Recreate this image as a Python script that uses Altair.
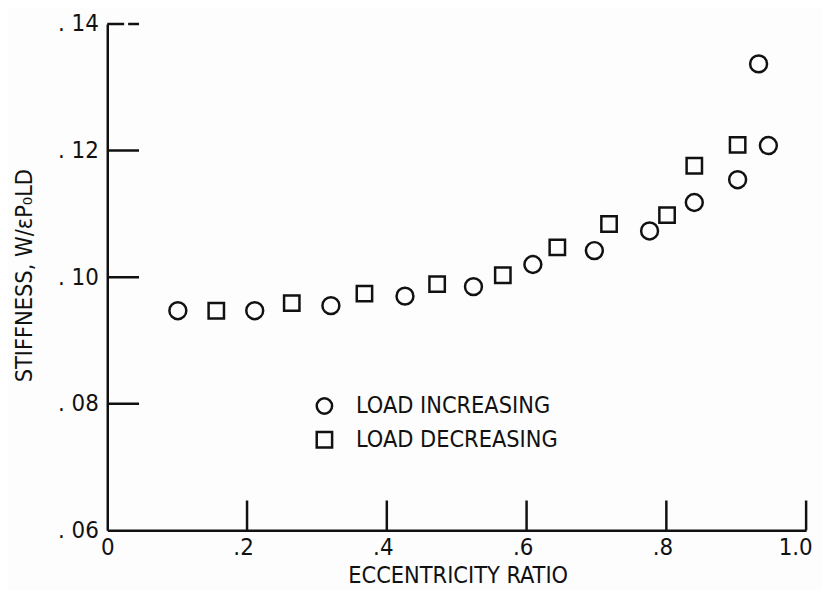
import altair as alt
import pandas as pd

# Data
inc_x = [0.101, 0.211, 0.320, 0.426, 0.524, 0.609, 0.697, 0.776, 0.840, 0.902, 0.932, 0.946]
inc_y = [0.0947, 0.0947, 0.0955, 0.0970, 0.0985, 0.1020, 0.1042, 0.1073, 0.1118, 0.1154, 0.1337, 0.1208]
dec_x = [0.156, 0.264, 0.368, 0.472, 0.566, 0.644, 0.718, 0.801, 0.840, 0.902]
dec_y = [0.0947, 0.0959, 0.0974, 0.0989, 0.1003, 0.1047, 0.1084, 0.1098, 0.1176, 0.1209]
series_names = ["LOAD INCREASING", "LOAD DECREASING"]
x_ticks = [0.2, 0.4, 0.6, 0.8, 1.0]
y_ticks = [0.08, 0.10, 0.12]
y_top_tick = [0.14]
x_labels_at = [0, 0.2, 0.4, 0.6, 0.8, 1.0]
y_labels_at = [0.06, 0.08, 0.10, 0.12, 0.14]

FONT = "DejaVu Sans Condensed, DejaVu Sans, sans-serif"
INK = "#111111"

df = pd.DataFrame(
    {"x": inc_x + dec_x, "y": inc_y + dec_y,
     "series": [series_names[0]] * len(inc_x) + [series_names[1]] * len(dec_x)}
)

xs = alt.Scale(domain=[0, 1.0], nice=False, zero=False)
ys = alt.Scale(domain=[0.06, 0.14], nice=False, zero=False)

x_axis = alt.Axis(
    values=x_labels_at, ticks=False, grid=False, domainColor=INK, domainWidth=2.5,
    labelExpr='datum.value == 0 ? "0" : (datum.value == 1 ? "1.0" : "." + substring(format(datum.value, ".1f"), 2))',
    labelFont=FONT, labelFontSize=24, labelColor=INK, labelPadding=5, labelFlush=False,
    labelOffset={"condition": [{"test": "datum.value == 1", "value": -11},
                               {"test": "datum.value == 0", "value": 0}], "value": -4},
    title="ECCENTRICITY RATIO", titleFont=FONT, titleFontSize=23.5, titleFontWeight="normal",
    titleColor=INK, titleX=353, titleY=46, titleBaseline="middle", titleAlign="center",
)
y_axis = alt.Axis(
    values=y_labels_at, ticks=False, grid=False, domainColor=INK, domainWidth=2.5,
    labelExpr='". " + substring(format(datum.value, ".2f"), 2)',
    labelFont=FONT, labelFontSize=24, labelColor=INK, labelPadding=9, labelFlush=False,
    title="STIFFNESS, W/\u03b5P\u2080LD", titleFont=FONT, titleFontSize=23.5, titleFontWeight="normal",
    titleColor=INK, titleX=-83, titleY=253, titleAngle=-90, titleBaseline="middle", titleAlign="center",
)

points = alt.Chart(df).mark_point(filled=False, strokeWidth=2.5, color=INK, opacity=1).encode(
    x=alt.X("x:Q", scale=xs, axis=x_axis),
    y=alt.Y("y:Q", scale=ys, axis=y_axis),
    shape=alt.Shape(
        "series:N",
        scale=alt.Scale(domain=series_names, range=["circle", "square"]),
        legend=alt.Legend(
            title=None, orient="none", legendX=207, legendY=373,
            labelFont=FONT, labelFontSize=23.5, labelColor=INK, labelOffset=20, labelLimit=400,
            symbolSize=240, symbolStrokeColor=INK, symbolStrokeWidth=2.5,
            symbolFillColor="transparent", rowPadding=8,
        ),
    ),
    size=alt.condition(alt.datum.series == series_names[0], alt.value(290), alt.value(240)),
)

xt = pd.DataFrame({"x": x_ticks})
x_tick_rules = alt.Chart(xt).mark_rule(color=INK, strokeWidth=2.5).encode(
    x=alt.X("x:Q", scale=xs),
    y=alt.value(510),
    y2=alt.value(480),
)

yt = pd.DataFrame({"y": y_ticks})
y_tick_rules = alt.Chart(yt).mark_rule(color=INK, strokeWidth=2.5).encode(
    y=alt.Y("y:Q", scale=ys),
    x=alt.value(0),
    x2=alt.value(32),
)

yt_top = pd.DataFrame({"y": y_top_tick})
y_top_rule = alt.Chart(yt_top).mark_rule(color=INK, strokeWidth=2.5, strokeDash=[17, 4]).encode(
    y=alt.Y("y:Q", scale=ys),
    x=alt.value(0),
    x2=alt.value(32),
)

chart = alt.layer(x_tick_rules, y_tick_rules, y_top_rule, points).properties(
    width=704, height=510,
    autosize=alt.AutoSizeParams(type="none"),
    padding={"left": 100, "top": 14, "right": 16, "bottom": 58},
    background="#fdfdfd",
).configure_view(stroke=None)

chart.save("out.html", embed_options={"renderer": "svg", "actions": False})
